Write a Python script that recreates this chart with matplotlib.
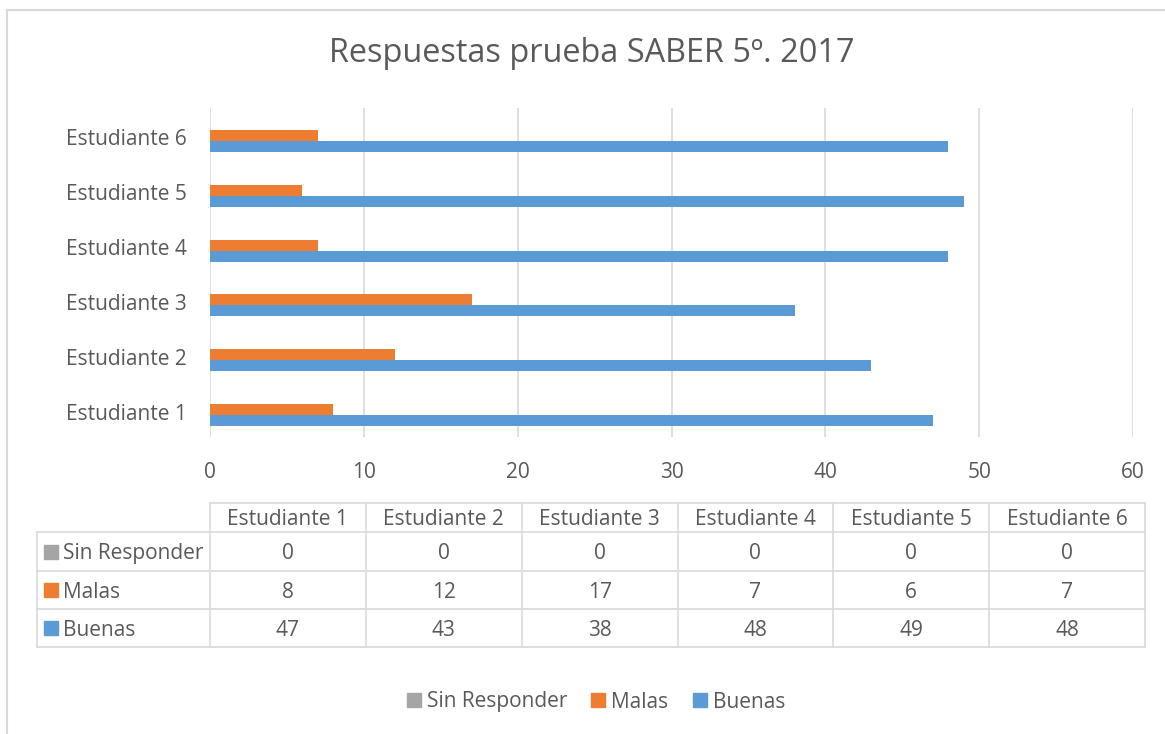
import matplotlib.pyplot as plt
import matplotlib.transforms as mtransforms
from matplotlib.patches import Rectangle
from matplotlib.lines import Line2D

W, H = 1165, 734
categories = ["Estudiante 1", "Estudiante 2", "Estudiante 3", "Estudiante 4", "Estudiante 5", "Estudiante 6"]
series_names = ["Sin Responder", "Malas", "Buenas"]
sin_responder = [0, 0, 0, 0, 0, 0]
malas = [8, 12, 17, 7, 6, 7]
buenas = [47, 43, 38, 48, 49, 48]
xticks = [0, 10, 20, 30, 40, 50, 60]
title = "Respuestas prueba SABER 5º. 2017"

colors = ["#a5a5a5", "#ed7d31", "#5b9bd5"]
TXT = "#595959"
GRID = "#d9d9d9"
FONT = "Open Sans"
FS = 15
DY = 2  # text vertical nudge, px
plt.rcParams['font.family'] = [FONT, 'DejaVu Sans']

fig = plt.figure(figsize=(W / 100, H / 100), dpi=100)

def fx(px):
    return px / W

def fy(py):
    return 1 - py / H

# outer chart border
fig.add_artist(Line2D([fx(7), fx(7)], [fy(10), fy(734)], color=GRID, lw=1.5))
fig.add_artist(Line2D([fx(7), fx(1165)], [fy(10), fy(10)], color=GRID, lw=1.5))

ax = fig.add_axes([fx(210), fy(437), (1133 - 210) / W, (437 - 108) / H])
y = list(range(len(categories)))
h = 0.2
series = [sin_responder, malas, buenas]
offsets = [h, 0, -h]
for vals, off, c, name in zip(series, offsets, colors, series_names):
    ax.barh([v + off for v in y], vals, height=h, color=c, label=name, zorder=3)
ax.set_xlim(0, 60)
ax.set_ylim(-0.5, len(categories) - 0.5)
ax.set_xticks(xticks)
ax.set_yticks(y)
ax.set_yticklabels(categories)
ax.tick_params(axis='both', length=0, labelcolor=TXT, labelsize=FS)
ax.tick_params(axis='x', pad=18)
ax.tick_params(axis='y', pad=17)
ax.grid(axis='x', color=GRID, lw=1.2, zorder=0)
for s in ax.spines.values():
    s.set_visible(False)
shift = mtransforms.ScaledTranslation(0, -DY / 100, fig.dpi_scale_trans)
for lab in ax.get_yticklabels():
    lab.set_transform(lab.get_transform() + shift)

fig.text(fx(592), fy(54), title, ha='center', va='center', fontsize=23.4, color=TXT)

# data table
col_edges = [210 + i * (1145 - 210) / 6 for i in range(7)]
row_edges = [503, 532, 571, 609, 647]
tl = 37
lw = 1.2
fig.add_artist(Line2D([fx(210), fx(1145)], [fy(row_edges[0])] * 2, color=GRID, lw=lw))
for r in row_edges[1:]:
    fig.add_artist(Line2D([fx(tl), fx(1145)], [fy(r)] * 2, color=GRID, lw=lw))
fig.add_artist(Line2D([fx(tl), fx(tl)], [fy(row_edges[1]), fy(row_edges[-1])], color=GRID, lw=lw))
for c in col_edges:
    fig.add_artist(Line2D([fx(c), fx(c)], [fy(row_edges[0]), fy(row_edges[-1])], color=GRID, lw=lw))
for i, cat in enumerate(categories):
    xc = (col_edges[i] + col_edges[i + 1]) / 2
    fig.text(fx(xc), fy((row_edges[0] + row_edges[1]) / 2 + DY), cat, ha='center', va='center', fontsize=FS, color=TXT)
for r, (name, vals, c) in enumerate(zip(series_names, series, colors)):
    yc = (row_edges[r + 1] + row_edges[r + 2]) / 2
    fig.add_artist(Rectangle((fx(44), fy(yc + 7)), 14 / W, 14 / H, color=c))
    fig.text(fx(63), fy(yc + DY), name, ha='left', va='center', fontsize=FS, color=TXT)
    for i, v in enumerate(vals):
        xc = (col_edges[i] + col_edges[i + 1]) / 2
        fig.text(fx(xc), fy(yc + DY), str(v), ha='center', va='center', fontsize=FS, color=TXT)

# legend
leg_x = [407, 591, 693]
for lx, name, c in zip(leg_x, series_names, colors):
    fig.add_artist(Rectangle((fx(lx), fy(707)), 14 / W, 14 / H, color=c))
    fig.text(fx(lx + 20), fy(700 + DY), name, ha='left', va='center', fontsize=FS, color=TXT)

fig.savefig("out.png", dpi=100, facecolor='white')
